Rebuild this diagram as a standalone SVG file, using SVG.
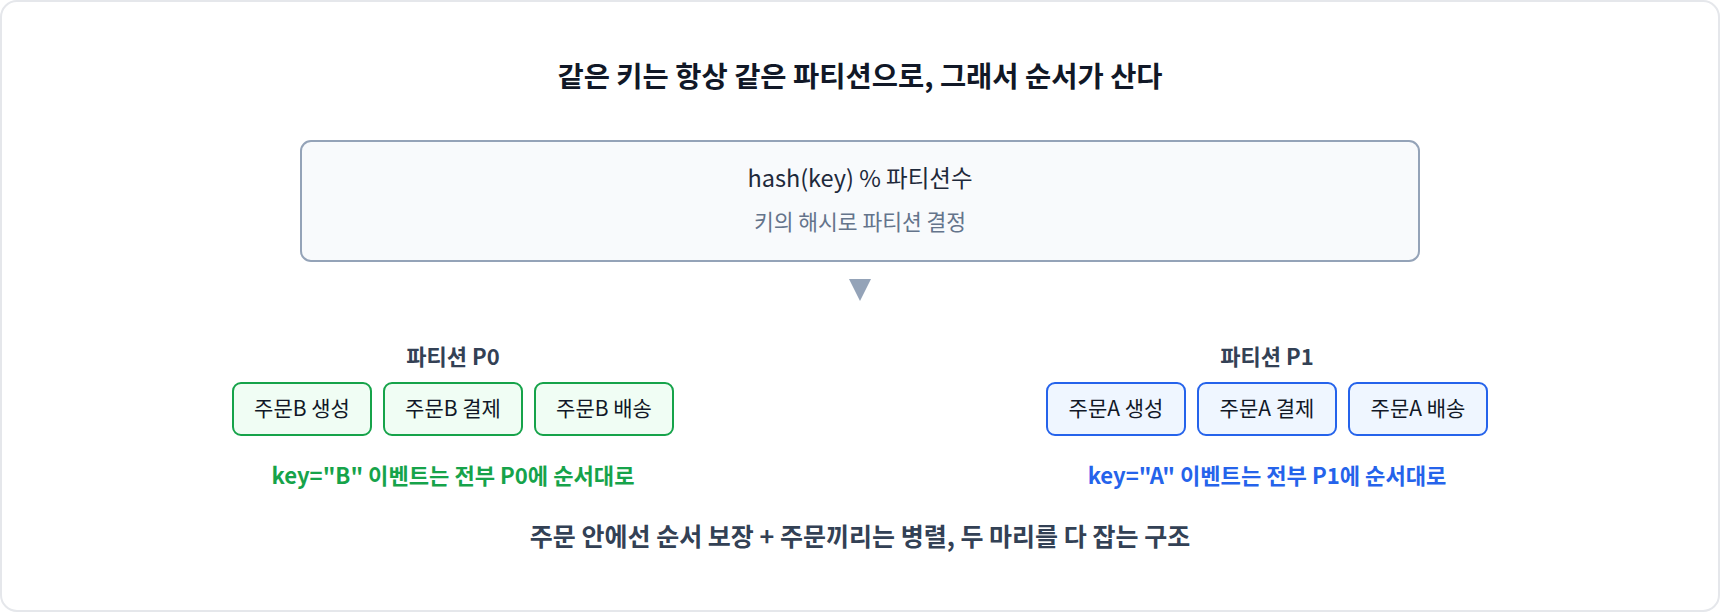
<svg xmlns="http://www.w3.org/2000/svg" width="1720" height="612" viewBox="0 0 1720 612">
<style>
text{font-family:"Noto Sans CJK KR","Noto Sans",sans-serif;text-anchor:middle}
.title{font-size:28.5px;font-weight:700;fill:#111827}
.main{font-size:23.5px;fill:#1e293b}
.sub{font-size:21.5px;fill:#64748b}
.plabel{font-size:22px;font-weight:700;fill:#334155}
.bt{font-size:21px;fill:#111827}
.g rect{fill:#f0fdf4;stroke:#16a34a;stroke-width:2}
.b rect{fill:#eff6ff;stroke:#2563eb;stroke-width:2}
.capg{font-size:22.1px;font-weight:700;fill:#16a34a}
.capb{font-size:22.1px;font-weight:700;fill:#2563eb}
.foot{font-size:25px;font-weight:700;fill:#334155}
</style>
<rect x="1" y="1" width="1718" height="610" rx="16" fill="#ffffff" stroke="#e5e7eb" stroke-width="2"/>
<text class="title" x="860" y="87">같은 키는 항상 같은 파티션으로, 그래서 순서가 산다</text>
<g id="hash">
<rect x="301" y="141" width="1118" height="120" rx="10" fill="#f8fafc" stroke="#94a3b8" stroke-width="2"/>
<text class="main" x="860" y="187">hash(key) % 파티션수</text>
<text class="sub" x="860" y="230">키의 해시로 파티션 결정</text>
</g>
<g id="connectors">
<polygon points="849,279 871,279 860,301" fill="#94a3b8"/>
</g>
<g id="p0">
<text class="plabel" x="453" y="365">파티션 P0</text>
<g id="b1" class="g"><rect x="233" y="383" width="138" height="52" rx="8"/><text class="bt" x="302" y="416">주문B 생성</text></g>
<g id="b2" class="g"><rect x="384" y="383" width="138" height="52" rx="8"/><text class="bt" x="453" y="416">주문B 결제</text></g>
<g id="b3" class="g"><rect x="535" y="383" width="138" height="52" rx="8"/><text class="bt" x="604" y="416">주문B 배송</text></g>
<text class="capg" x="453" y="484">key="B" 이벤트는 전부 P0에 순서대로</text>
</g>
<g id="p1">
<text class="plabel" x="1267" y="365">파티션 P1</text>
<g id="a1" class="b"><rect x="1047" y="383" width="138" height="52" rx="8"/><text class="bt" x="1116" y="416">주문A 생성</text></g>
<g id="a2" class="b"><rect x="1198" y="383" width="138" height="52" rx="8"/><text class="bt" x="1267" y="416">주문A 결제</text></g>
<g id="a3" class="b"><rect x="1349" y="383" width="138" height="52" rx="8"/><text class="bt" x="1418" y="416">주문A 배송</text></g>
<text class="capb" x="1267" y="484">key="A" 이벤트는 전부 P1에 순서대로</text>
</g>
<text class="foot" x="860" y="546">주문 안에선 순서 보장 + 주문끼리는 병렬, 두 마리를 다 잡는 구조</text>
</svg>
